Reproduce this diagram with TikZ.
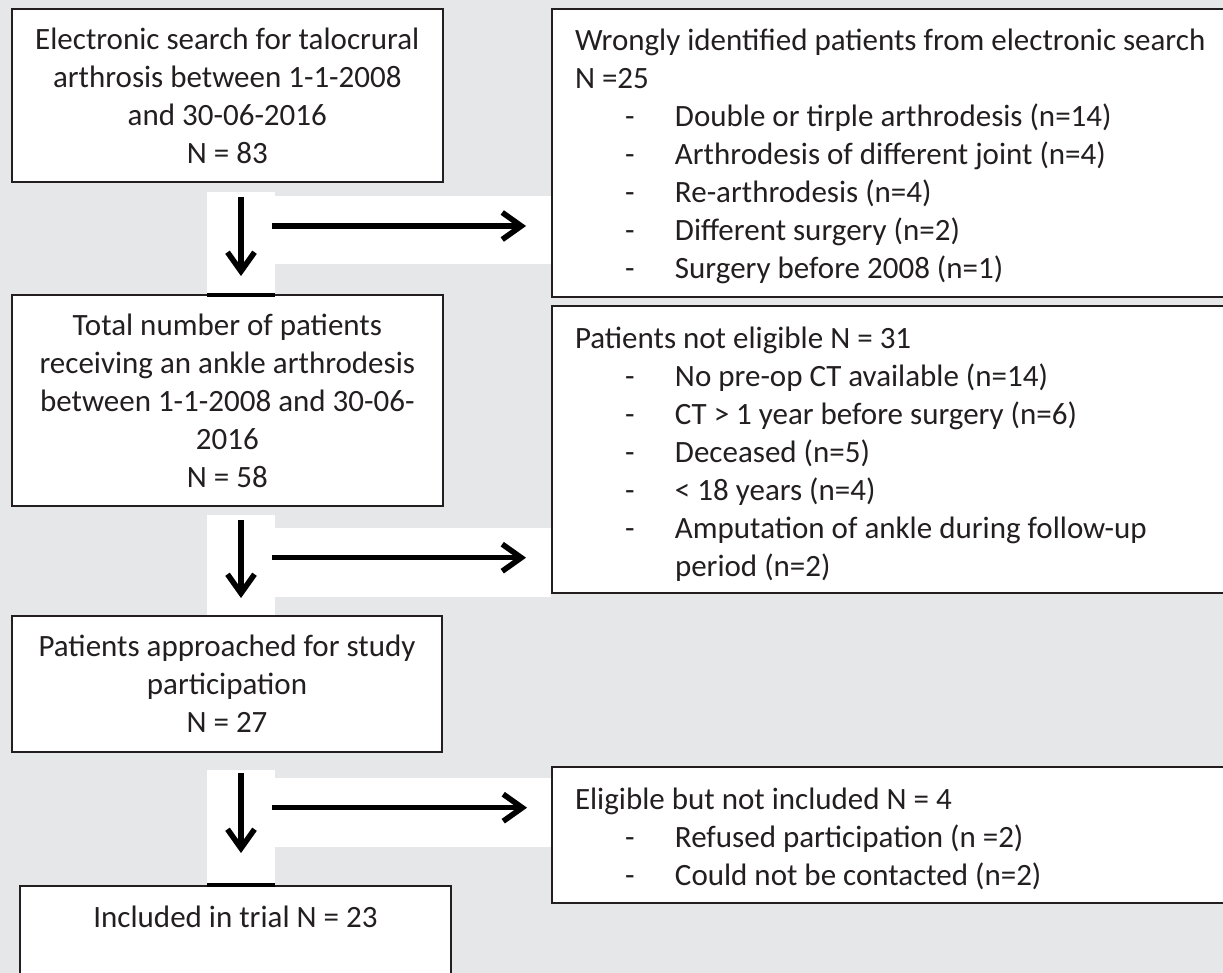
\documentclass[tikz,border=0pt]{standalone}
\usepackage{fontspec}
\setmainfont{Carlito}
\usetikzlibrary{arrows.meta}
\definecolor{bg}{HTML}{E6E7E8}
\definecolor{ink}{HTML}{231F20}
\newcommand{\dashitem}{\hspace*{50pt}\makebox[50pt][l]{-}}
\newcommand{\liftline}[1]{\rule{0pt}{\dimexpr\fontcharht\font`l+#1\relax}}
\begin{document}
\begin{tikzpicture}[x=1pt,y=-1pt,
  box/.style={draw=ink, line width=2pt, fill=white, inner sep=0pt, text=ink,
    font=\fontsize{31pt}{38pt}\selectfont},
  cbox/.style={box, align=center, minimum width=431.5pt},
  rbox/.style={box, align=flush left, text width=700pt, inner xsep=23pt, anchor=west},
  arr/.style={draw=black, line width=5.5pt, -{Straight Barb[length=19pt,width=27pt]}},
  shadowarr/.style={arr, draw=black!70, opacity=0.25, shift={(2pt,-3pt)}},
  strip/.style={fill=white, draw=none},
  joint/.style={draw=black, line width=4pt}]
\fill[bg] (0,0) rectangle (1223,973);
\useasboundingbox (0,0) rectangle (1223,973);
\clip (0,0) rectangle (1223,973);
% white strips behind the arrows
\fill[strip] (207,192) rectangle (275,295);
\fill[strip] (263,196) rectangle (551,264);
\fill[strip] (207,515) rectangle (275,617);
\fill[strip] (275,528) rectangle (551,597);
\fill[strip] (207,770) rectangle (275,886);
\fill[strip] (263,778) rectangle (551,847);
% left column
\node[cbox, minimum height=172.7pt] (b1) at (227.3,95.7)
  {Electronic search for talocrural\\arthrosis between 1-1-2008\\and 30-06-2016\\N = 83};
\node[cbox, minimum height=211pt] (b2) at (227.3,400.5)
  {Total number of patients\\receiving an ankle arthrodesis\\between 1-1-2008 and 30-06-\\2016\\N = 58};
\node[cbox, minimum width=430pt, minimum height=136pt] (b3) at (227,684)
  {Patients approached for study\\participation\\N = 27};
\node[box, minimum width=431pt, anchor=north, text height=41pt, text depth=110pt] (b4) at (235.5,885)
  {Included in trial N = 23};
% right column
\node[rbox, minimum height=287.4pt] (r1) at (551,153)
  {\liftline{6pt}Wrongly identified patients from electronic search\\
   N =25\\
   \dashitem Double or tirple arthrodesis (n=14)\\
   \dashitem Arthrodesis of different joint (n=4)\\
   \dashitem Re-arthrodesis (n=4)\\
   \dashitem Different surgery (n=2)\\
   \dashitem Surgery before 2008 (n=1)};
\node[rbox, minimum height=287pt] (r2) at (551,449.5)
  {\liftline{10pt}Patients not eligible N = 31\\
   \dashitem No pre-op CT available (n=14)\\
   \dashitem CT > 1 year before surgery (n=6)\\
   \dashitem Deceased (n=5)\\
   \dashitem < 18 years (n=4)\\
   \dashitem Amputation of ankle during follow-up\\
   \hspace*{100pt}period (n=2)};
\node[rbox, minimum height=136pt] (r3) at (551,835)
  {\liftline{8pt}Eligible but not included N = 4\\
   \dashitem Refused participation (n =2)\\
   \dashitem Could not be contacted (n=2)};
% joints where the strips meet the boxes
\draw[joint] (207,295) -- (275,295);
\draw[joint] (207,885) -- (275,885);
% arrow end points
\coordinate (d1s) at (241,197);   \coordinate (d1e) at (241,276);
\coordinate (h1s) at (272,226);   \coordinate (h1e) at (526,226);
\coordinate (d2s) at (241,520);   \coordinate (d2e) at (241,598);
\coordinate (h2s) at (272,557.7); \coordinate (h2e) at (526,557.7);
\coordinate (d3s) at (241,773);   \coordinate (d3e) at (241,853);
\coordinate (h3s) at (272,807.7); \coordinate (h3e) at (527,807.7);
% arrows with soft shadows
\foreach \s/\e in {d1s/d1e,h1s/h1e,d2s/d2e,h2s/h2e,d3s/d3e,h3s/h3e}{
  \draw[shadowarr] (\s) -- (\e);
  \draw[arr] (\s) -- (\e);
}
\end{tikzpicture}
\end{document}
